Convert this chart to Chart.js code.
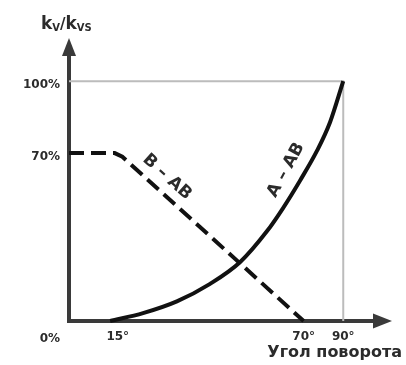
<!DOCTYPE html>
<html>
<head>
<meta charset="utf-8">
<script src="https://cdn.jsdelivr.net/npm/chart.js@4.4.1/dist/chart.umd.min.js"></script>
<style>
  html, body { margin: 0; padding: 0; background: #fff; }
  canvas { display: block; }
</style>
</head>
<body>
<canvas id="grafico" width="406" height="365"></canvas>
<script>
// Кривая A - AB (равнопроцентная), положение по оси X в единицах шкалы
const curvaA_x = [13.5, 24.3, 35.4, 46.3, 56.1, 65.0, 70.2, 75.8, 81.4, 85.7, 90];
const curvaA_y = [0, 3.3, 8.2, 15.5, 24.5, 37.5, 47, 58.5, 71, 83, 100];

// Кривая B - AB (пунктир)
const curvaB_x = [0, 15, 17.5, 77];
const curvaB_y = [70, 70, 68.5, 0];

// Серая рамка 100% / 90°
const moldura_x = [0, 90, 90];
const moldura_y = [100, 100, 0];

const xTicks = [16, 77, 90];
const xTickLabels = ['15°', '70°', '90°'];
const yTicks = [70, 100];
const yTickLabels = ['70%', '100%'];

const FONTE = 'DejaVu Sans';
const COR_TEXTO = '#2b2b2b';

function pontos(xs, ys) {
    return xs.map((x, i) => ({ x: x, y: ys[i] }));
}

const eixosPlugin = {
    id: 'eixos',
    beforeDatasetsDraw(chart) {
        const ctx = chart.ctx;
        const a = chart.chartArea;
        const x0 = chart.scales.x.getPixelForValue(0);
        const y0 = chart.scales.y.getPixelForValue(0);
        ctx.save();
        ctx.strokeStyle = '#3a3a3a';
        ctx.fillStyle = '#3a3a3a';
        ctx.lineWidth = 4;
        // eixo Y
        ctx.beginPath();
        ctx.moveTo(x0, y0 + 2);
        ctx.lineTo(x0, a.top + 15);
        ctx.stroke();
        ctx.beginPath();
        ctx.moveTo(x0, a.top);
        ctx.lineTo(x0 - 7, a.top + 18);
        ctx.lineTo(x0 + 7, a.top + 18);
        ctx.closePath();
        ctx.fill();
        // eixo X
        ctx.beginPath();
        ctx.moveTo(x0 - 2, y0);
        ctx.lineTo(a.right - 16, y0);
        ctx.stroke();
        ctx.beginPath();
        ctx.moveTo(a.right, y0);
        ctx.lineTo(a.right - 19, y0 - 7.5);
        ctx.lineTo(a.right - 19, y0 + 7.5);
        ctx.closePath();
        ctx.fill();
        ctx.restore();
    },
    afterDraw(chart) {
        const ctx = chart.ctx;
        ctx.save();
        ctx.fillStyle = COR_TEXTO;

        // 0% embaixo, na linha dos rótulos do eixo X
        ctx.font = 'bold 12px ' + FONTE;
        ctx.textAlign = 'right';
        ctx.textBaseline = 'middle';
        ctx.fillText('0%', 60, 339);

        // título do eixo Y: kv/kvs
        ctx.textAlign = 'left';
        ctx.textBaseline = 'alphabetic';
        let x = 41;
        const base = 29;
        const partes = [['k', 17, 0], ['V', 10, 2], ['/', 15, 0], ['k', 17, 0], ['VS', 10, 2]];
        partes.forEach(p => {
            ctx.font = 'bold ' + p[1] + 'px ' + FONTE;
            ctx.fillText(p[0], x, base + p[2]);
            x += ctx.measureText(p[0]).width;
        });

        // título do eixo X
        ctx.font = 'bold 16px ' + FONTE;
        ctx.textAlign = 'right';
        ctx.textBaseline = 'middle';
        ctx.fillText('Угол поворота', 402, 353);

        // rótulos das curvas
        ctx.font = 'bold 17px ' + FONTE;
        ctx.textAlign = 'center';
        ctx.textBaseline = 'middle';
        ctx.save();
        ctx.translate(167, 177);
        ctx.rotate(42 * Math.PI / 180);
        ctx.fillText('B – AB', 0, 0);
        ctx.restore();

        ctx.save();
        ctx.translate(286, 170);
        ctx.rotate(-61 * Math.PI / 180);
        ctx.fillText('A – AB', 0, 0);
        ctx.restore();

        ctx.restore();
    }
};

new Chart(document.getElementById('grafico'), {
    type: 'line',
    data: {
        datasets: [
            {
                label: 'A - AB',
                data: pontos(curvaA_x, curvaA_y),
                borderColor: '#111',
                borderWidth: 4,
                cubicInterpolationMode: 'monotone',
                pointRadius: 0,
                order: 1
            },
            {
                label: 'B - AB',
                data: pontos(curvaB_x, curvaB_y),
                borderColor: '#111',
                borderWidth: 4,
                borderDash: [15, 7],
                tension: 0,
                pointRadius: 0,
                order: 2
            },
            {
                label: 'moldura',
                data: pontos(moldura_x, moldura_y),
                borderColor: '#bcbcbc',
                borderWidth: 2,
                tension: 0,
                pointRadius: 0,
                order: 3
            }
        ]
    },
    options: {
        responsive: false,
        animation: false,
        clip: false,
        layout: { padding: { top: 38, right: 14, left: 0, bottom: 0 } },
        scales: {
            x: {
                type: 'linear',
                min: 0,
                max: 106,
                grid: { display: false, drawTicks: false },
                border: { display: false },
                afterBuildTicks: s => { s.ticks = xTicks.map(v => ({ value: v })); },
                afterFit: s => { s.height = 44; },
                ticks: {
                    autoSkip: false,
                    maxRotation: 0,
                    padding: 9,
                    color: COR_TEXTO,
                    font: { family: FONTE, size: 12, weight: 'bold' },
                    callback: (v, i) => xTickLabels[i]
                }
            },
            y: {
                type: 'linear',
                min: 0,
                max: 118,
                grid: { display: false, drawTicks: false },
                border: { display: false },
                afterBuildTicks: s => { s.ticks = yTicks.map(v => ({ value: v })); },
                afterFit: s => { s.width = 69; },
                ticks: {
                    padding: 9,
                    labelOffset: 4,
                    color: COR_TEXTO,
                    font: { family: FONTE, size: 12, weight: 'bold' },
                    callback: (v, i) => yTickLabels[i]
                }
            }
        },
        plugins: {
            legend: { display: false },
            tooltip: { enabled: false }
        }
    },
    plugins: [eixosPlugin]
});
</script>
</body>
</html>
